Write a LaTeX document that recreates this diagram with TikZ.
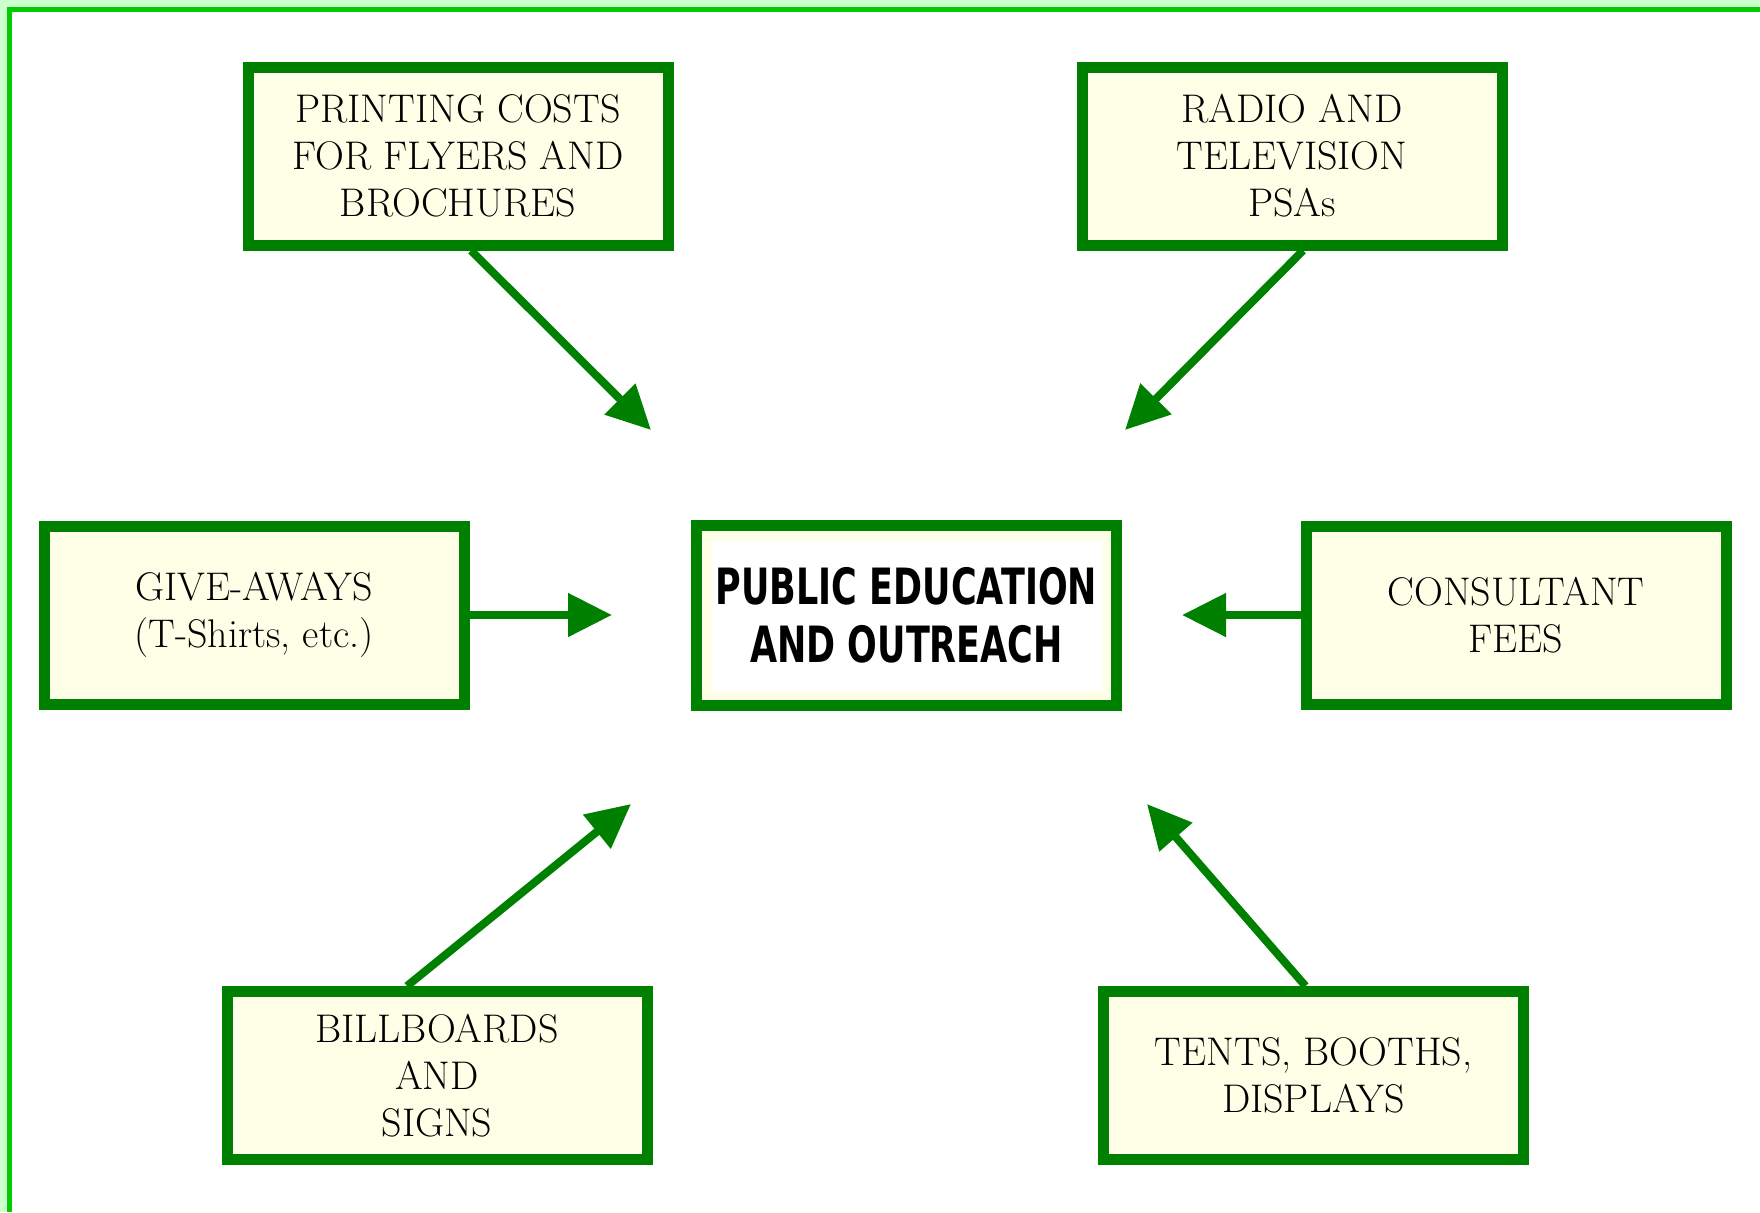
\documentclass[tikz,border=0pt]{standalone}
\usepackage{fontspec}
\usetikzlibrary{arrows.meta,calc}
\newfontfamily\hubfont[FakeStretch=0.7]{DejaVu Sans}
\definecolor{boxgreen}{HTML}{008000}
\definecolor{boxfill}{HTML}{FFFFE8}
\definecolor{framegreen}{HTML}{00CC00}
\definecolor{edgegreen}{HTML}{CCFFCC}
\tikzset{
	costbox/.style={draw=boxgreen,line width=5.5pt,fill=boxfill,align=center,inner sep=0pt,minimum width=210pt,minimum height=89pt,
		font=\fontsize{20}{23.5}\selectfont\addfontfeatures{LetterSpace=3}},
	lowbox/.style={costbox,minimum height=84pt},
	hubbox/.style={costbox,fill=white,minimum width=210pt,minimum height=90pt,font=\hubfont\bfseries\fontsize{25}{29}\selectfont,
		path picture={\draw[boxfill,line width=15pt] (path picture bounding box.south west) rectangle (path picture bounding box.north east);}},
	diredge/.style={->,>={Triangle[width=21pt,length=22pt]},color=boxgreen,line width=4pt}
}
\begin{document}
\begin{tikzpicture}[x=0.5pt,y=-0.5pt]

	%% page and frame
	\useasboundingbox (0,0) rectangle (1760,1212);
	\fill[edgegreen] (0,0) rectangle (1760,1212);
	\fill[framegreen] (7,7) rectangle (1760,1212);
	\fill[white] (12,12) rectangle (1760,1212);

	%% centre
	\node[hubbox] (hub) at (906.5,615.5) {PUBLIC EDUCATION\\AND OUTREACH};

	%% cost items
	\node[costbox] (printing) at (458,156) {PRINTING COSTS\\FOR FLYERS AND\\BROCHURES};
	\node[costbox] (radio) at (1292,156) {RADIO AND\\TELEVISION\\PSAs};
	\node[costbox] (gifts) at (254,615) {GIVE-AWAYS\\(T-Shirts, etc.)};
	\node[costbox] (consult) at (1516,615) {CONSULTANT\\FEES};
	\node[lowbox] (billboards) at (437,1075.5) {BILLBOARDS\\AND\\SIGNS};
	\node[lowbox] (tents) at (1313.5,1075.5) {TENTS, BOOTHS,\\DISPLAYS};

	%% arrow tips
	\coordinate (printtip) at (651,430);
	\coordinate (radiotip) at (1125,430);
	\coordinate (giftstip) at (612,615);
	\coordinate (consulttip) at (1182,615);
	\coordinate (boardtip) at (631,804);
	\coordinate (tentstip) at (1147,804);

	%% arrows towards the centre
	\draw[diredge] ([xshift=6.5pt]printing.south) -- (printtip);
	\draw[diredge] ([xshift=5.5pt]radio.south) -- (radiotip);
	\draw[diredge] (gifts.east) -- (giftstip);
	\draw[diredge] (consult.west) -- (consulttip);
	\draw[diredge] ([xshift=-15pt]billboards.north) -- (boardtip);
	\draw[diredge] ([xshift=-4pt]tents.north) -- (tentstip);
\end{tikzpicture}
\end{document}
